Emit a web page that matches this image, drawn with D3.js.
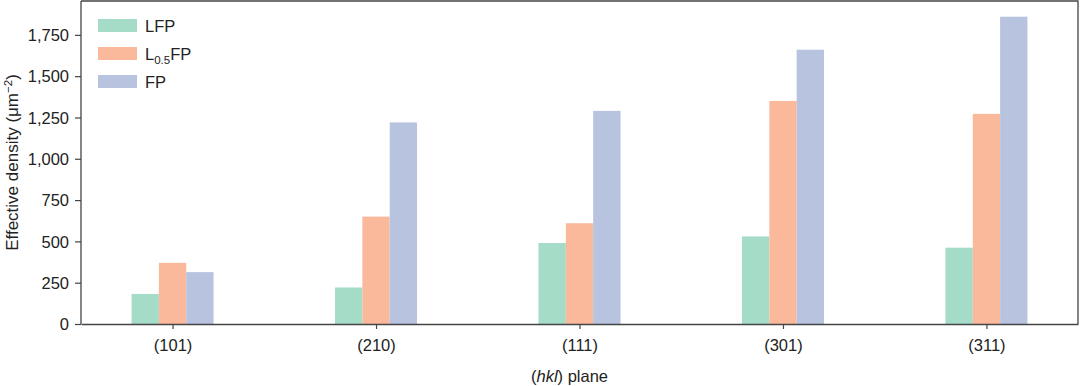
<!DOCTYPE html>
<html>
<head>
<meta charset="utf-8">
<script src="https://cdn.jsdelivr.net/npm/d3@7"></script>
<style>
  body { margin: 0; background: #fff; }
  svg text { font-family: "Liberation Sans", Arial, Helvetica, sans-serif; fill: #222; }
</style>
</head>
<body>
<script>
// Data
const planes = ["(101)", "(210)", "(111)", "(301)", "(311)"];
const seriesNames = ["LFP", "L0.5FP", "FP"];
const lfp = [182, 221, 490, 530, 462];
const l05fp = [370, 650, 610, 1350, 1272];
const fp = [314, 1220, 1290, 1660, 1860];
const yTicks = [0, 250, 500, 750, 1000, 1250, 1500, 1750];
const colors = ["#a4dcc8", "#fbb99c", "#b8c3e0"];

const w = 1080, h = 386;
const margin = { top: 1, right: 2, bottom: 62, left: 81 };
const plotW = w - margin.left - margin.right;
const plotH = h - margin.top - margin.bottom;
const fs = "16.5px";

const svg = d3.select("body").append("svg")
    .attr("width", w)
    .attr("height", h);

const g = svg.append("g")
    .attr("transform", `translate(${margin.left}, ${margin.top})`);

// Scales
const xScale = d3.scalePoint()
    .domain(planes)
    .range([0, plotW])
    .padding(0.45);

const inner = d3.scaleBand()
    .domain(seriesNames)
    .range([-41, 41]);

const yScale = d3.scaleLinear()
    .domain([0, 1955])
    .range([plotH, 0]);

// Bars
const series = [lfp, l05fp, fp];
series.forEach((vals, si) => {
    g.selectAll(".bar-" + si)
        .data(vals)
        .enter()
        .append("rect")
        .attr("x", (d, i) => xScale(planes[i]) + inner(seriesNames[si]))
        .attr("y", d => yScale(d))
        .attr("width", inner.bandwidth())
        .attr("height", d => plotH - yScale(d))
        .attr("fill", colors[si]);
});

// Frame (top and right)
g.append("path")
    .attr("d", `M0,0H${plotW}V${plotH}`)
    .attr("fill", "none")
    .attr("stroke", "#444")
    .attr("stroke-width", 1.3);

// Axes
const yAxis = g.append("g")
    .call(d3.axisLeft(yScale).tickValues(yTicks).tickSize(6).tickPadding(6)
        .tickFormat(d3.format(",")));
const xAxis = g.append("g")
    .attr("transform", `translate(0, ${plotH})`)
    .call(d3.axisBottom(xScale).tickSize(5).tickPadding(10).tickSizeOuter(0));

[yAxis, xAxis].forEach(a => {
    a.select(".domain").attr("stroke", "#444").attr("stroke-width", 1.3);
    a.selectAll(".tick line").attr("stroke", "#444").attr("stroke-width", 1.2);
    a.selectAll("text").style("font-size", fs).attr("fill", "#222");
});
yAxis.select(".domain").attr("d", `M0,0V${plotH}`);
yAxis.selectAll(".tick text").attr("dy", "0.35em");

// Axis labels
const yLabel = svg.append("text")
    .attr("transform", `translate(18, ${margin.top + plotH / 2}) rotate(-90)`)
    .attr("text-anchor", "middle")
    .style("font-size", "17px");
yLabel.append("tspan").text("Effective density (μm");
yLabel.append("tspan").attr("dy", "-6").style("font-size", "11.5px").text("−2");
yLabel.append("tspan").attr("dy", "6").text(")");

const xLabel = svg.append("text")
    .attr("x", margin.left + plotW / 2 - 10)
    .attr("y", 382)
    .attr("text-anchor", "middle")
    .style("font-size", fs);
xLabel.append("tspan").text("(");
xLabel.append("tspan").style("font-style", "italic").text("hkl");
xLabel.append("tspan").text(") plane");

// Legend
const legend = svg.append("g")
    .attr("transform", "translate(98, 19)");
seriesNames.forEach((name, i) => {
    const row = legend.append("g").attr("transform", `translate(0, ${i * 28})`);
    row.append("rect")
        .attr("width", 39)
        .attr("height", 13)
        .attr("fill", colors[i]);
    const t = row.append("text")
        .attr("x", 47)
        .attr("y", 12.5)
        .style("font-size", fs);
    if (name === "L0.5FP") {
        t.append("tspan").text("L");
        t.append("tspan").attr("dy", "4").style("font-size", "11.5px").text("0.5");
        t.append("tspan").attr("dy", "-4").text("FP");
    } else {
        t.text(name);
    }
});
</script>
</body>
</html>
